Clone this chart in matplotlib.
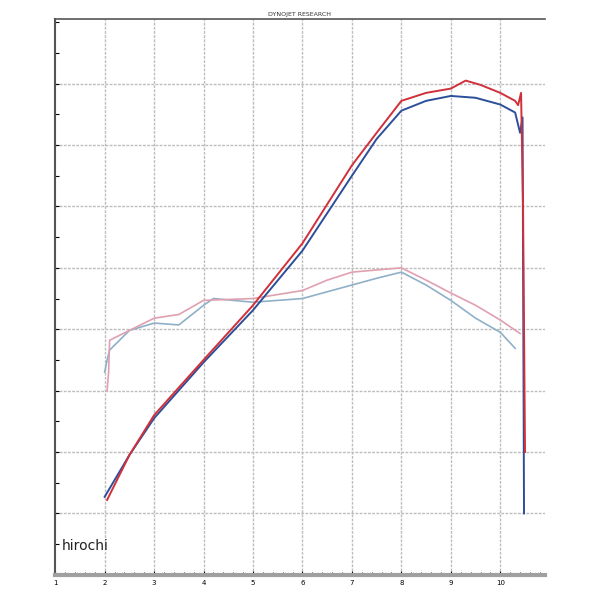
import matplotlib
matplotlib.use("Agg")
import matplotlib.pyplot as plt
import numpy as np

rpm_b_pw = [2.0, 2.5, 3, 4, 5, 6, 7, 7.5, 8, 8.5, 9, 9.5, 10, 10.3, 10.4, 10.45, 10.48]
blue_pw = [1.27, 1.95, 2.55, 3.46, 4.31, 5.28, 6.5, 7.1, 7.56, 7.72, 7.8, 7.77, 7.66, 7.53, 7.2, 7.45, 1.0]
rpm_r_pw = [2.05, 2.5, 3, 4, 5, 6, 7, 7.5, 8, 8.5, 9, 9.3, 9.6, 10, 10.3, 10.36, 10.42, 10.46, 10.5]
red_pw = [1.22, 1.95, 2.6, 3.5, 4.39, 5.4, 6.67, 7.2, 7.72, 7.85, 7.92, 8.05, 7.98, 7.85, 7.72, 7.65, 7.85, 6.0, 2.0]
rpm_b_tq = [2.0, 2.05, 2.1, 2.5, 3, 3.5, 4, 4.2, 5, 6, 7, 7.5, 8, 8.5, 9, 9.5, 10, 10.3]
blue_tq = [3.3, 3.5, 3.66, 3.98, 4.1, 4.07, 4.39, 4.5, 4.44, 4.5, 4.72, 4.83, 4.93, 4.72, 4.47, 4.18, 3.95, 3.69]
rpm_r_tq = [2.05, 2.08, 2.1, 2.5, 3, 3.5, 4, 5, 6, 6.5, 7, 8, 8.5, 9, 9.5, 10, 10.4]
red_tq = [3.0, 3.3, 3.82, 3.98, 4.18, 4.24, 4.47, 4.5, 4.63, 4.8, 4.93, 5.0, 4.8, 4.59, 4.39, 4.15, 3.93]

fig = plt.figure(figsize=(6, 6), dpi=100)
ax = fig.add_axes([0.092, 0.042, 0.816, 0.926])
ax.set_xlim(1, 10.9)
ax.set_ylim(0, 9.05)
for x in range(2, 11):
    ax.axvline(x, color="#bdbdbd", ls=(0, (2, 1)), lw=1.0, zorder=0)
for y in range(1, 9):
    ax.axhline(y, color="#bdbdbd", ls=(0, (2, 1)), lw=1.0, zorder=0)
ax.plot(rpm_b_tq, blue_tq, color="#8fb0c8", lw=1.2)
ax.plot(rpm_r_tq, red_tq, color="#e0a0b0", lw=1.2)
ax.plot(rpm_b_pw, blue_pw, color="#2c4f9a", lw=1.4)
ax.plot(rpm_r_pw, red_pw, color="#d0303a", lw=1.4)
ax.spines["right"].set_visible(False)
ax.spines["left"].set_color("#555555")
ax.spines["top"].set_color("#555555")
ax.spines["left"].set_linewidth(1.5)
ax.spines["top"].set_linewidth(1.2)
ax.spines["bottom"].set_color("#a0a0a0")
ax.spines["bottom"].set_linewidth(3)
ax.set_xticks(range(1, 11))
ax.set_xticklabels([str(i) for i in range(1, 11)], fontsize=5)
ax.set_xticks(np.arange(1, 10.9, 0.2), minor=True)
ax.set_yticks(np.arange(0, 9.05, 0.5))
ax.set_yticklabels([])
ax.tick_params(axis="x", direction="in", length=3, pad=4)
ax.tick_params(axis="x", which="minor", direction="in", length=2)
ax.tick_params(axis="y", direction="in", length=3)
ax.set_title("DYNOJET RESEARCH", fontsize=4.5, pad=2, color="#333333")
fig.text(0.103, 0.083, "hirochi", fontsize=10, color="#222222")
fig.savefig("out.png")
